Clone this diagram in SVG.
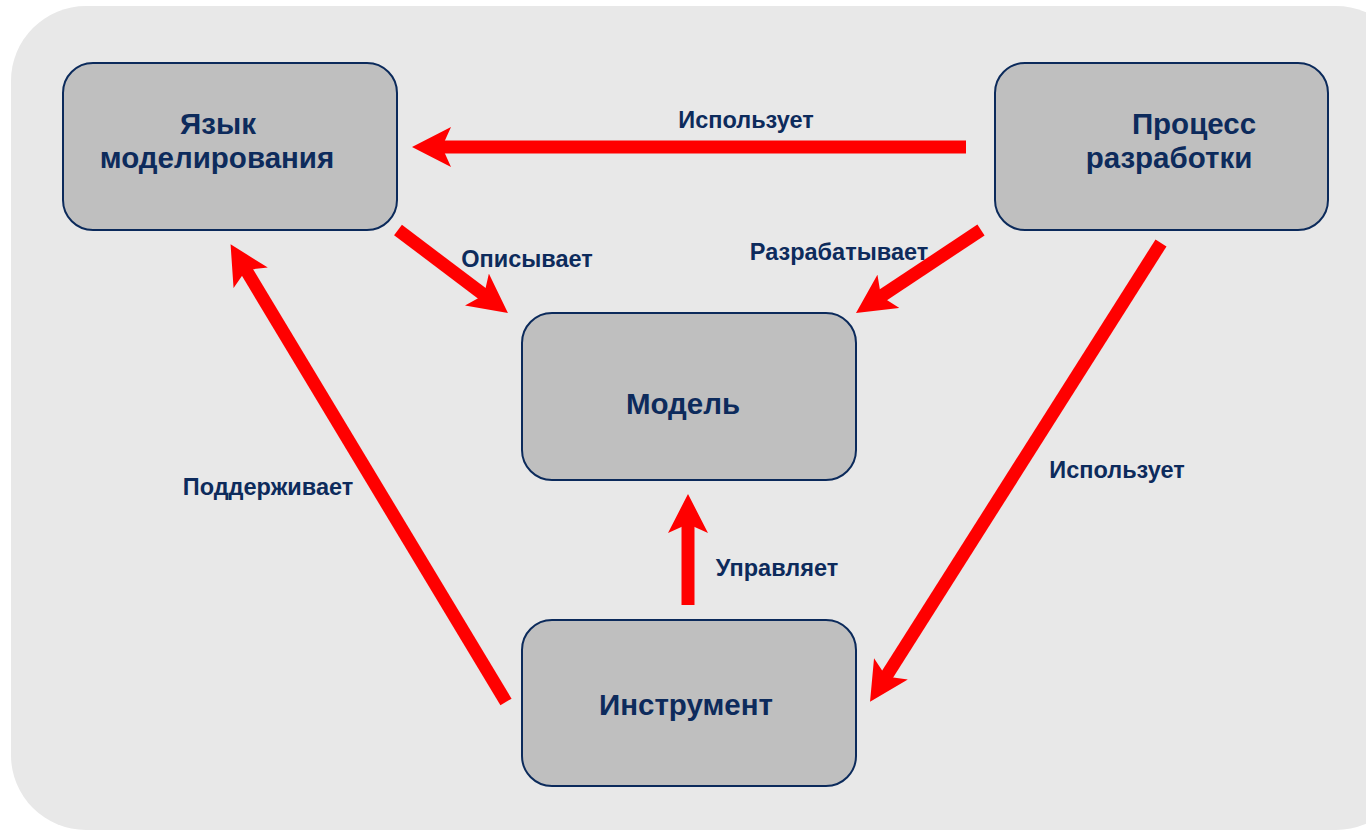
<svg xmlns="http://www.w3.org/2000/svg" width="1366" height="831" viewBox="0 0 1366 831">
<style>
.node rect{fill:#bfbfbf;stroke:#0b2a5b;stroke-width:2}
.nt{font-family:"Liberation Sans",Arial,sans-serif;font-weight:bold;font-size:29.5px;fill:#0d2b5c;text-anchor:middle}
.lb{font-family:"Liberation Sans",Arial,sans-serif;font-weight:bold;font-size:23.5px;fill:#0d2b5c;text-anchor:middle}
.conn line{stroke:#ff0000;stroke-width:13;marker-end:url(#ah)}
</style>
<defs>
<marker id="ah" markerUnits="userSpaceOnUse" markerWidth="40" markerHeight="40" viewBox="0 0 40 40" refX="12" refY="20" orient="auto">
<path d="M39,20 L0,0 L9,20 L0,40 Z" fill="#ff0000"/>
</marker>
</defs>
<rect x="0" y="0" width="1366" height="831" fill="#ffffff"/>
<rect x="11" y="6" width="1400" height="824" rx="75" ry="75" fill="#e8e8e8"/>
<g class="conn" id="connectors">
<line x1="966" y1="147" x2="439" y2="147"/>
<line x1="398" y1="230" x2="486.4" y2="296.8"/>
<line x1="981" y1="230" x2="878.5" y2="298"/>
<line x1="1161" y1="243" x2="884.5" y2="679"/>
<line x1="506" y1="702" x2="244.5" y2="267.5"/>
<line x1="688" y1="605" x2="688" y2="521"/>
</g>
<g id="lang" class="node">
<rect x="63" y="63" width="334" height="167" rx="30" ry="30"/>
<text class="nt" x="218" y="134">Язык</text>
<text class="nt" x="217" y="168">моделирования</text>
</g>
<g id="process" class="node">
<rect x="995" y="63" width="333" height="167" rx="30" ry="30"/>
<text class="nt" x="1194" y="134">Процесс</text>
<text class="nt" x="1169" y="168">разработки</text>
</g>
<g id="model" class="node">
<rect x="522" y="313" width="334" height="167" rx="30" ry="30"/>
<text class="nt" x="683" y="414">Модель</text>
</g>
<g id="tool" class="node">
<rect x="522" y="620" width="334" height="166" rx="30" ry="30"/>
<text class="nt" x="686" y="715">Инструмент</text>
</g>
<g id="labels">
<text class="lb" x="746" y="128">Использует</text>
<text class="lb" x="527" y="267">Описывает</text>
<text class="lb" x="839" y="260">Разрабатывает</text>
<text class="lb" x="268" y="495">Поддерживает</text>
<text class="lb" x="1117" y="478">Использует</text>
<text class="lb" x="777" y="576">Управляет</text>
</g>
</svg>
